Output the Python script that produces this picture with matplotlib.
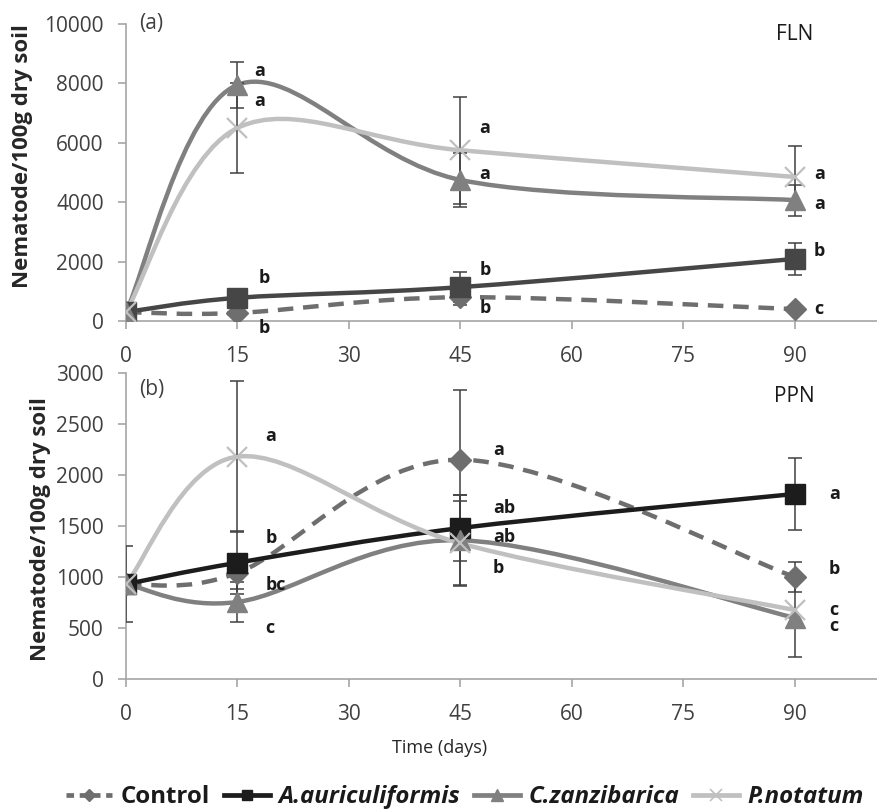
import numpy as np
import matplotlib
matplotlib.use("Agg")
import matplotlib.pyplot as plt
from matplotlib.path import Path
from matplotlib.patches import PathPatch
from matplotlib.lines import Line2D

plt.rcParams['font.family'] = ['Open Sans', 'DejaVu Sans']

days = [0, 15, 45, 90]
series_names = ["Control", "A.auriculiformis", "C.zanzibarica", "P.notatum"]

# (a) FLN
fln_control = [300, 270, 800, 400]
fln_control_err = [0, 0, 250, 80]
fln_acacia = [300, 780, 1140, 2090]
fln_acacia_err = [0, 0, 510, 550]
fln_casuarina = [300, 7950, 4750, 4070]
fln_casuarina_err = [0, 770, 900, 520]
fln_paspalum = [300, 6500, 5750, 4850]
fln_paspalum_err = [0, 1500, 1800, 1050]

# (b) PPN
ppn_control = [930, 1040, 2150, 1000]
ppn_control_err = [370, 160, 680, 150]
ppn_acacia = [930, 1140, 1480, 1814]
ppn_acacia_err = [0, 310, 320, 350]
ppn_casuarina = [930, 755, 1360, 600]
ppn_casuarina_err = [0, 200, 440, 380]
ppn_paspalum = [930, 2180, 1330, 676]
ppn_paspalum_err = [0, 740, 420, 0]

# significance letters: (day, value, letter)
fln_letters = [(17.3, 8420, "a"), (17.3, 7400, "a"), (17.8, 1450, "b"), (17.8, -230, "b"),
               (47.6, 6500, "a"), (47.6, 4950, "a"), (47.6, 1720, "b"), (47.6, 440, "b"),
               (92.6, 4950, "a"), (92.6, 3940, "a"), (92.6, 2360, "b"), (92.6, 400, "c")]
ppn_letters = [(18.8, 2380, "a"), (18.8, 1380, "b"), (18.8, 920, "bc"), (18.8, 500, "c"),
               (49.4, 2250, "a"), (49.4, 1680, "ab"), (49.4, 1390, "ab"), (49.4, 1090, "b"),
               (94.6, 1810, "a"), (94.6, 1080, "b"), (94.6, 680, "c"), (94.6, 520, "c")]

spine_col = "#a6a6a6"
txt_col = "#404040"


def smooth_path(x, y):
    # excel-like smoothed line, bezier through the points
    pts = np.column_stack([x, y]).astype(float)
    ext = np.vstack([pts[0], pts, pts[-1]])
    verts = [pts[0]]
    codes = [Path.MOVETO]
    for i in range(len(pts) - 1):
        p0, p1, p2, p3 = ext[i], ext[i + 1], ext[i + 2], ext[i + 3]
        verts += [p1 + (p2 - p0) / 6, p2 - (p3 - p1) / 6, p2]
        codes += [Path.CURVE4] * 3
    return Path(verts, codes)


def draw_series(ax, y, err, color, marker, ms, ls="-", mfc=None, mew=1.0):
    ax.add_patch(PathPatch(smooth_path(days, y), fill=False, edgecolor=color,
                           lw=3.2, linestyle=ls, capstyle="butt", zorder=2))
    x = np.array(days)
    e = np.array(err)
    m = e > 0
    ax.errorbar(x[m], np.array(y)[m], yerr=e[m], fmt="none", ecolor=txt_col,
                elinewidth=1.1, capsize=5, capthick=1.1, zorder=3)
    ax.plot(days, y, linestyle="none", marker=marker, ms=ms,
            color=color, mfc=mfc or color, mec=color, mew=mew, zorder=4)


def style_axes(ax, ymax, ystep):
    ax.set_xlim(0, 101.2)
    ax.set_ylim(0, ymax)
    ax.set_xticks(range(0, 91, 15))
    ax.set_yticks(np.arange(0, ymax + 1, ystep))
    for s in ["top", "right"]:
        ax.spines[s].set_visible(False)
    for s in ["left", "bottom"]:
        ax.spines[s].set_color(spine_col)
        ax.spines[s].set_linewidth(1.2)
    ax.tick_params(direction="out", length=6, width=1.2, color=spine_col,
                   labelsize=15, labelcolor=txt_col)
    ax.tick_params(axis="x", pad=12)
    ax.tick_params(axis="y", pad=10)
    ax.patch.set_alpha(0)


fig = plt.figure(figsize=(8.78, 8.11), dpi=100)

ax1 = fig.add_axes([126 / 878, 1 - 321 / 811, 1 - 126 / 878, (321 - 24) / 811])
ax2 = fig.add_axes([126 / 878, 1 - 679 / 811, 1 - 126 / 878, (679 - 373) / 811])

draw_series(ax1, fln_control, fln_control_err, "#6e6e6e", "D", 11, ls=(0, (3.5, 2.2)))
draw_series(ax1, fln_acacia, fln_acacia_err, "#464646", "s", 14)
draw_series(ax1, fln_casuarina, fln_casuarina_err, "#808080", "^", 15)
draw_series(ax1, fln_paspalum, fln_paspalum_err, "#c0c0c0", "x", 15, mew=1.6)
style_axes(ax1, 10000, 2000)

draw_series(ax2, ppn_control, ppn_control_err, "#6e6e6e", "D", 11, ls=(0, (3.5, 2.2)))
draw_series(ax2, ppn_acacia, ppn_acacia_err, "#1c1c1c", "s", 14)
draw_series(ax2, ppn_casuarina, ppn_casuarina_err, "#808080", "^", 15)
draw_series(ax2, ppn_paspalum, ppn_paspalum_err, "#c0c0c0", "x", 15, mew=1.6)
style_axes(ax2, 3000, 500)

for ax, letters in ((ax1, fln_letters), (ax2, ppn_letters)):
    for xd, yv, t in letters:
        ax.text(xd, yv, t, fontsize=13, fontweight="bold", color="#1a1a1a",
                ha="left", va="center", clip_on=False, zorder=5)

ax1.text(1.8, 10000, "(a)", fontsize=15, color=txt_col, ha="left", va="center")
ax1.text(90, 9630, "FLN", fontsize=15, color="#1a1a1a", ha="center", va="center")
ax2.text(1.8, 2840, "(b)", fontsize=15, color=txt_col, ha="left", va="center")
ax2.text(90, 2765, "PPN", fontsize=15, color="#1a1a1a", ha="center", va="center")

fig.text(23 / 878, 1 - 156 / 811, "Nematode/100g dry soil", rotation=90,
         fontsize=16, fontweight="bold", color="#262626", ha="center", va="center")
fig.text(41 / 878, 1 - 529 / 811, "Nematode/100g dry soil", rotation=90,
         fontsize=16, fontweight="bold", color="#262626", ha="center", va="center")
fig.text(440 / 878, 1 - 748 / 811, "Time (days)", fontsize=13, color="#262626",
         ha="center", va="center")

handles = [
    Line2D([], [], color="#6e6e6e", lw=3.4, ls=(0, (1.6, 1.2)), marker="D", ms=6),
    Line2D([], [], color="#1c1c1c", lw=3.4, marker="s", ms=7),
    Line2D([], [], color="#808080", lw=3.4, marker="^", ms=8),
    Line2D([], [], color="#c0c0c0", lw=3.4, marker="x", ms=8, mew=1.2),
]
leg = fig.legend(handles, series_names, loc="center", bbox_to_anchor=(465 / 878, 1 - 797 / 811),
                 ncol=4, frameon=False, handlelength=1.9, handletextpad=0.35,
                 columnspacing=0.6, borderpad=0, prop={"size": 17.3, "weight": "bold"})
for i, t in enumerate(leg.get_texts()):
    t.set_color("#1a1a1a")
    if i > 0:
        t.set_fontstyle("italic")

fig.savefig("out.png", dpi=100)
